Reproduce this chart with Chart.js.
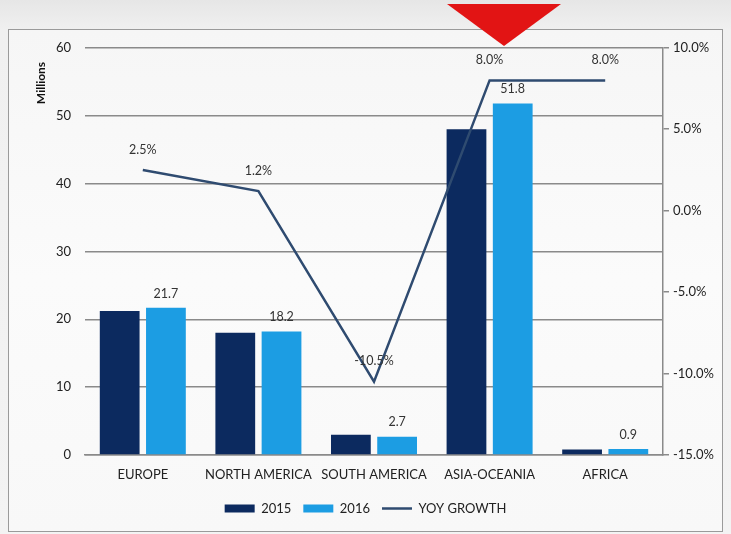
<!DOCTYPE html>
<html>
<head>
<meta charset="utf-8">
<script src="https://cdn.jsdelivr.net/npm/chart.js@4"></script>
<style>
  html, body { margin: 0; padding: 0; }
  body { width: 731px; height: 534px; position: relative; overflow: hidden;
         background: linear-gradient(#e6e6e6, #f0f0f0 30px, #f3f3f3); }
  #box { position: absolute; left: 8px; top: 29px; width: 713px; height: 501px;
         border: 1px solid #9a9a9a; background: linear-gradient(#f6f6f6, #fbfbfb 50%, #f8f8f8); }
  #box canvas { position: absolute; left: 0; top: -4px; }
  #tri { position: absolute; left: 447px; top: 4px; width: 114px; height: 42px;
         background: #e21414; clip-path: polygon(0 0, 100% 0, 50% 100%);
         filter: drop-shadow(0 2px 2px rgba(0,0,0,0.3)); }
</style>
</head>
<body>
<div id="box"><canvas id="c" width="713" height="505"></canvas></div>
<div id="tri"></div>
<script>
const categories = ["EUROPE", "NORTH AMERICA", "SOUTH AMERICA", "ASIA-OCEANIA", "AFRICA"];
const sales2015 = [21.2, 18.0, 3.0, 48.0, 0.8];
const sales2016 = [21.7, 18.2, 2.7, 51.8, 0.9];
const yoyGrowth = [2.5, 1.2, -10.5, 8.0, 8.0];
const seriesNames = ["2015", "2016", "YOY GROWTH"];

const FONT = "Lato, 'Liberation Sans', sans-serif";

const labelPlugin = {
  id: 'vals',
  afterDatasetsDraw(chart) {
    const ctx = chart.ctx;
    ctx.save();
    ctx.font = "12.5px " + FONT;
    ctx.fillStyle = "#333";
    ctx.textAlign = "center";
    ctx.textBaseline = "bottom";
    chart.getDatasetMeta(1).data.forEach((el, i) => {
      ctx.fillText(sales2016[i].toFixed(1), el.x, el.y - 8);
    });
    chart.getDatasetMeta(2).data.forEach((el, i) => {
      ctx.fillText(yoyGrowth[i].toFixed(1) + "%", el.x, el.y - 14);
    });
    // axis title "Millions"
    ctx.save();
    ctx.font = "bold 12px " + FONT;
    ctx.fillStyle = "#111";
    ctx.translate(32, 57);
    ctx.rotate(-Math.PI / 2);
    ctx.textAlign = "center";
    ctx.textBaseline = "middle";
    ctx.fillText("Millions", 0, 0);
    ctx.restore();
    ctx.restore();
  }
};

new Chart(document.getElementById('c'), {
  data: {
    labels: categories,
    datasets: [
      { type: 'bar', label: seriesNames[0], data: sales2015, backgroundColor: '#0c2a5f',
        yAxisID: 'y', order: 1, categoryPercentage: 0.8, barPercentage: 0.86, pointStyle: 'rect' },
      { type: 'bar', label: seriesNames[1], data: sales2016, backgroundColor: '#1c9de3',
        yAxisID: 'y', order: 1, categoryPercentage: 0.8, barPercentage: 0.86, pointStyle: 'rect' },
      { type: 'line', label: seriesNames[2], data: yoyGrowth, borderColor: '#2f4b70',
        backgroundColor: '#2f4b70', borderWidth: 2.5, pointRadius: 0, tension: 0,
        yAxisID: 'y1', order: 0, pointStyle: 'line' }
    ]
  },
  options: {
    responsive: false,
    animation: false,
    layout: { padding: { top: 9, left: 0, right: 0, bottom: 6 } },
    plugins: {
      tooltip: { enabled: false },
      legend: {
        position: 'bottom',
        labels: {
          usePointStyle: true, pointStyleWidth: 30, boxHeight: 8,
          font: { family: FONT, size: 13 }, color: '#222', padding: 12,
          sort: (a, b) => a.datasetIndex - b.datasetIndex
        }
      }
    },
    scales: {
      x: {
        grid: { display: false, drawTicks: false },
        border: { display: true, color: '#8a8a8a', width: 1.5 },
        ticks: { font: { family: FONT, size: 13 }, color: '#222', padding: 12, maxRotation: 0, autoSkip: false },
        afterFit(s) { s.height = 35; }
      },
      y: {
        position: 'left', min: 0, max: 60,
        ticks: { stepSize: 10, font: { family: FONT, size: 13 }, color: '#222', padding: 14 },
        grid: { color: '#8a8a8a', lineWidth: 1.5, drawTicks: false },
        border: { display: false },
        afterFit(s) { s.width = 76; }
      },
      y1: {
        position: 'right', min: -15, max: 10,
        ticks: { stepSize: 5, font: { family: FONT, size: 13 }, color: '#222', padding: 4,
                 callback: v => v.toFixed(1) + '%' },
        grid: { drawOnChartArea: false, color: '#8a8a8a', tickLength: 6, lineWidth: 1.5 },
        border: { display: true, color: '#8a8a8a', width: 1.5 },
        afterFit(s) { s.width = 59; }
      }
    }
  },
  plugins: [labelPlugin]
});
</script>
</body>
</html>
